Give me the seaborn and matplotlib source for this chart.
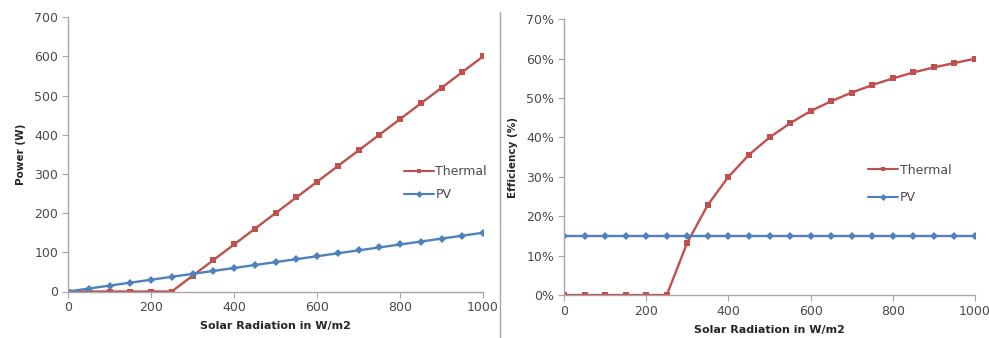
import numpy as np
import pandas as pd
import matplotlib
matplotlib.use("Agg")
import matplotlib.pyplot as plt
from matplotlib.lines import Line2D
from matplotlib.ticker import FuncFormatter
import seaborn as sns

radiation = [0, 50, 100, 150, 200, 250, 300, 350, 400, 450, 500,
             550, 600, 650, 700, 750, 800, 850, 900, 950, 1000]
thermal_power = [0, 0, 0, 0, 0, 0, 40, 80, 120, 160, 200,
                 240, 280, 320, 360, 400, 440, 480, 520, 560, 600]
pv_power = [0, 7.5, 15, 22.5, 30, 37.5, 45, 52.5, 60, 67.5, 75,
            82.5, 90, 97.5, 105, 112.5, 120, 127.5, 135, 142.5, 150]
thermal_eff = [0, 0, 0, 0, 0, 0, 0.133, 0.229, 0.300, 0.356, 0.400,
               0.436, 0.467, 0.492, 0.514, 0.533, 0.550, 0.565, 0.578, 0.589, 0.600]
pv_eff = [0.15] * 21

sns.set_style("white")
plt.rcParams['font.family'] = ['DejaVu Sans']

RED = "#C0504D"
BLUE = "#4F81BD"
TICKC = "#4a4a4a"
SPINE = "#A6A6A6"

fig = plt.figure(figsize=(9.89, 3.38), dpi=100)
ax1 = fig.add_axes([68/989, 1-291.5/338, (483-68)/989, (291.5-17.3)/338])
ax2 = fig.add_axes([564/989, 1-295/338, (975-564)/989, (295-19.3)/338])

df_p = pd.DataFrame({"x": radiation * 2,
                     "y": thermal_power + pv_power,
                     "s": ["Thermal"] * 21 + ["PV"] * 21})
df_e = pd.DataFrame({"x": radiation * 2,
                     "y": thermal_eff + pv_eff,
                     "s": ["Thermal"] * 21 + ["PV"] * 21})

for ax, df in [(ax1, df_p), (ax2, df_e)]:
    sns.lineplot(data=df, x="x", y="y", hue="s", style="s",
                 palette={"Thermal": RED, "PV": BLUE},
                 markers={"Thermal": "s", "PV": "D"},
                 dashes={"Thermal": "", "PV": ""},
                 markersize=4, linewidth=1.7, markeredgewidth=0,
                 ax=ax, legend=True)
    ax.set_xlim(0, 1000)
    ax.set_xticks([0, 200, 400, 600, 800, 1000])
    for s in ["top", "right"]:
        ax.spines[s].set_visible(False)
    for s in ["left", "bottom"]:
        ax.spines[s].set_color(SPINE)
        ax.spines[s].set_linewidth(1)
    ax.tick_params(axis="both", which="both", direction="out", length=4,
                   width=0.8, color=SPINE, labelsize=9, labelcolor=TICKC,
                   left=True, bottom=True, pad=3)
    ax.set_xlabel("Solar Radiation in W/m2", fontsize=8, fontweight="bold",
                  color="#262626", labelpad=5)
    ax.margins(x=0)

ax1.set_ylim(0, 700)
ax1.set_yticks(range(0, 701, 100))
ax1.set_ylabel("Power (W)", fontsize=7.5, fontweight="bold", color="#262626", labelpad=6)

ax2.set_ylim(0, 0.70)
ax2.set_yticks(np.arange(0, 0.71, 0.10))
ax2.yaxis.set_major_formatter(FuncFormatter(lambda v, p: f"{v*100:.0f}%"))
ax2.set_ylabel("Efficiency (%)", fontsize=7.5, fontweight="bold", color="#262626", labelpad=6)

leg1 = ax1.legend(loc="center left", bbox_to_anchor=(0.783, 0.394), frameon=False,
                  fontsize=9, handlelength=2.4, handletextpad=0.1, labelspacing=0.8,
                  labelcolor=TICKC)
leg2 = ax2.legend(loc="center left", bbox_to_anchor=(0.713, 0.403), frameon=False,
                  fontsize=9, handlelength=2.4, handletextpad=0.1, labelspacing=1.15,
                  labelcolor=TICKC)
for leg in (leg1, leg2):
    for h in leg.get_lines():
        h.set_linewidth(1.5)
        h.set_markersize(3.5)

fig.add_artist(Line2D([499.5/989, 499.5/989], [0, 1-12/338], color="#A6A6A6", lw=1))

fig.savefig("out.png", dpi=100, facecolor="white")
